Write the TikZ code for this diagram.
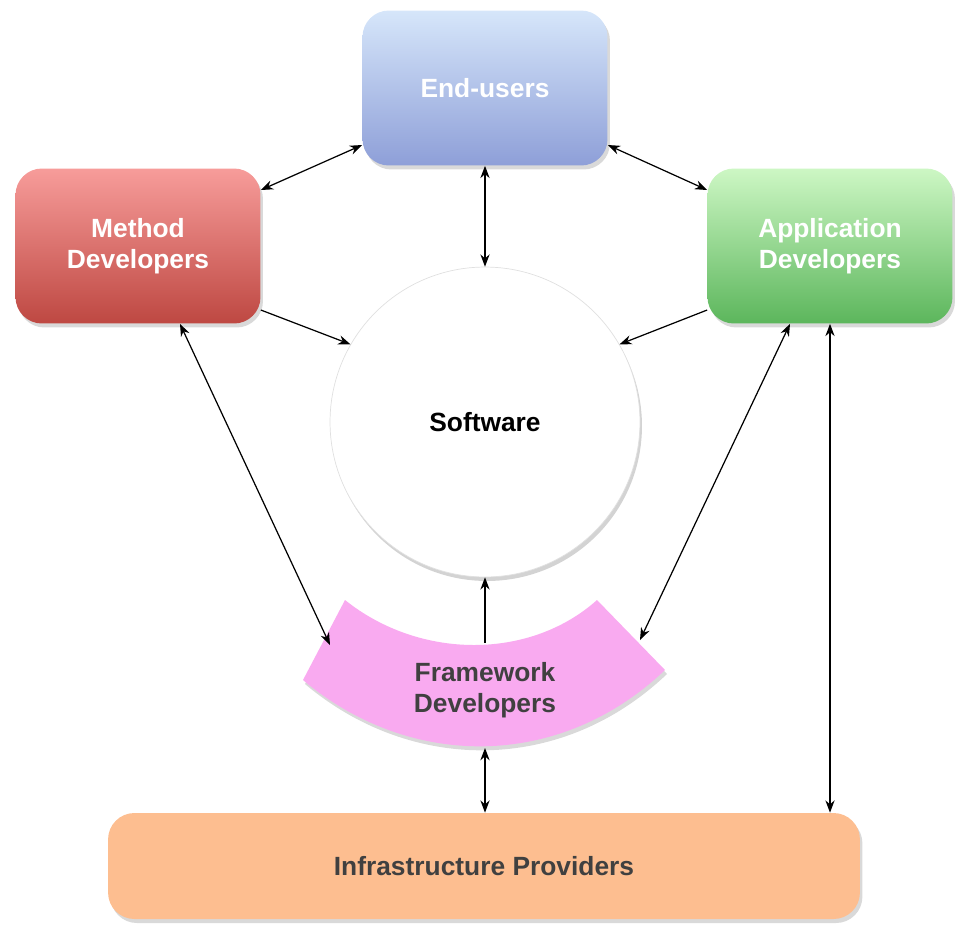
\documentclass[tikz,border=0pt]{standalone}
\usepackage{fontspec}
\setmainfont{Liberation Sans}
\usetikzlibrary{arrows.meta,shadows,positioning}
\definecolor{eu_top}{RGB}{214, 230, 250}
\definecolor{eu_bot}{RGB}{142, 159, 216}
\definecolor{md_top}{RGB}{247, 156, 154}
\definecolor{md_bot}{RGB}{190, 72, 66}
\definecolor{ad_top}{RGB}{205, 247, 196}
\definecolor{ad_bot}{RGB}{92, 182, 92}
\definecolor{fw_pink}{RGB}{249, 170, 240}
\definecolor{ip_orange}{RGB}{253, 190, 144}
\definecolor{txt_gray}{RGB}{64, 64, 64}
\tikzset{
  box/.style={rectangle,rounded corners=15,minimum width=4.9cm,minimum height=3.1cm,
    align=center,font=\fontsize{15}{18}\selectfont\bfseries,text=white,
    drop shadow={shadow xshift=0.05cm,shadow yshift=-0.08cm,opacity=0.3}},
  link/.style={{Stealth[length=7pt]}-{Stealth[length=7pt]},line width=0.7pt},
  one/.style={-{Stealth[length=7pt]},line width=0.7pt}
}
\begin{document}
\begin{tikzpicture}[x=0.02cm,y=-0.02cm]
  \useasboundingbox (0,0) rectangle (971,938);
  \node [box,top color=eu_top,bottom color=eu_bot] (eu) at (485,88) {End-users};
  \node [box,top color=md_top,bottom color=md_bot] (md) at (138,246) {Method\\Developers};
  \node [box,top color=ad_top,bottom color=ad_bot] (ad) at (830,246) {Application\\Developers};
  \node [circle,fill=white,draw=black!12,minimum size=6.2cm,font=\fontsize{15}{18}\selectfont\bfseries,
    drop shadow={shadow xshift=0.04cm,shadow yshift=-0.08cm,opacity=0.35}] (sw) at (485,422) {Software};
  \node [box,minimum width=15.04cm,minimum height=2.12cm,fill=ip_orange,text=txt_gray] (ip) at (484,866) {Infrastructure Providers};
  % framework arc
  \fill [fw_pink,drop shadow={shadow xshift=0.04cm,shadow yshift=-0.08cm,opacity=0.3}]
    (345,600) .. controls (420,660) and (530,660) .. (597,600)
    -- (665,670) .. controls (560,770) and (410,770) .. (303,680) -- cycle;
  \node [align=center,text=txt_gray,font=\fontsize{15}{18}\selectfont\bfseries] (fw) at (485,690) {Framework\\Developers};
  \coordinate (fwtop) at (485,643);
  \coordinate (fwbot) at (485,748);
  \coordinate (fwl) at (330,645);
  \coordinate (fwr) at (640,640);
  \draw [link] (md.east |- 0,190) -- (eu.west |- 0,145);
  \draw [link] (eu.east |- 0,145) -- (ad.west |- 0,190);
  \draw [link] (eu.south) -- (sw.north);
  \draw [one] (md.east |- 0,310) -- (sw.150);
  \draw [one] (ad.west |- 0,310) -- (sw.30);
  \draw [link] (md.south -| 180,0) -- (fwl);
  \draw [link] (ad.south -| 790,0) -- (fwr);
  \draw [one] (fwtop) -- (sw.south);
  \draw [link] (fwbot) -- (ip.north -| fwbot);
  \draw [link] (ad.south -| 830,0) -- (ip.north -| 830,0);
\end{tikzpicture}
\end{document}
